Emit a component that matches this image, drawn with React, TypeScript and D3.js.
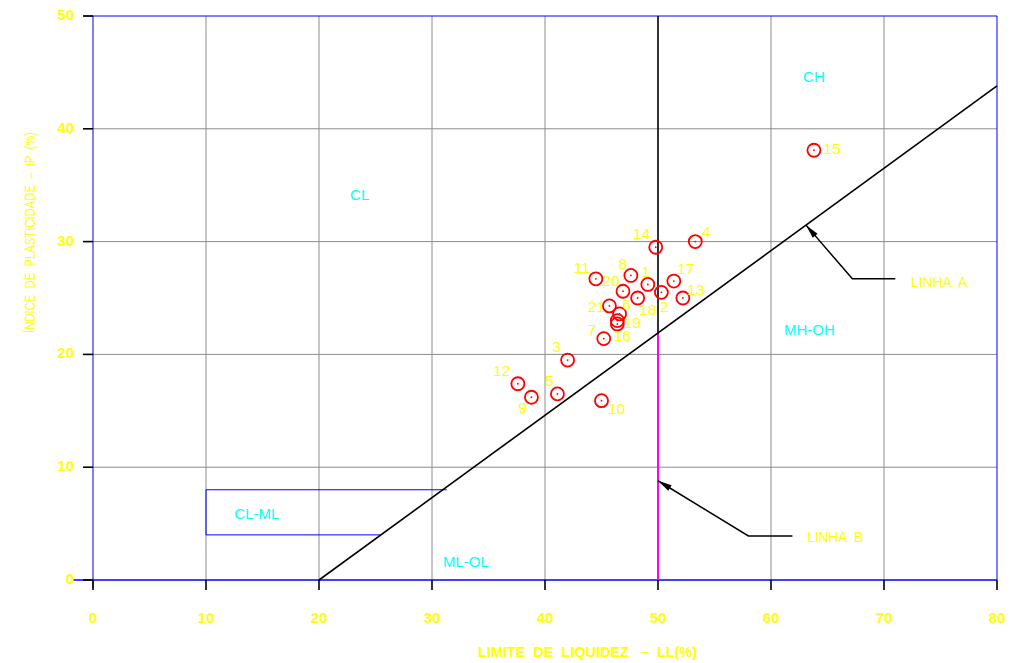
import React from "react";
import * as d3 from "d3";

const W = 1014;
const H = 663;

const xTicks = [0, 10, 20, 30, 40, 50, 60, 70, 80];
const yTicks = [0, 10, 20, 30, 40, 50];

// Sample points: id, LL (%), IP (%)
const sampleIds = ["1", "2", "3", "4", "5", "6", "7", "8", "9", "10", "11", "12", "13", "14", "15", "16", "17", "18", "19", "20", "21"];
const sampleLL = [49.1, 50.3, 42.0, 53.3, 41.1, 46.6, 45.2, 47.6, 38.8, 45.0, 44.5, 37.6, 52.2, 49.8, 63.8, 46.4, 51.4, 48.2, 46.4, 46.9, 45.7];
const sampleIP = [26.2, 25.5, 19.5, 30.0, 16.5, 23.6, 21.4, 27.0, 16.2, 15.9, 26.7, 17.4, 25.0, 29.5, 38.1, 22.7, 26.5, 25.0, 23.0, 25.6, 24.3];
// label offsets in px relative to the point (styling)
const labelDX = [-2, 3, -11, 11, -8, 7, -12, -8, -9, 15, -14, -16, 13, -14, 18, 5, 12, 10, 15, -12, -13];
const labelDY = [-12, 16, -12, -9, -12, -8, -8, -11, 12, 9, -10, -12, -7, -12, 0, 13, -11, 13, 3, -9, 2];

const zoneNames = ["CH", "CL", "MH-OH", "CL-ML", "ML-OL"];
const zoneLL = [63.8, 23.6, 63.4, 14.5, 33.0];
const zoneIP = [44.5, 34.0, 22.1, 5.8, 1.5];

const aLineLL = [20, 80];
const linhaALeader = [[63.1, 31.46], [67.2, 26.7], [71.0, 26.7]];
const linhaBLeader = [[50, 8.8], [58.0, 3.9], [61.9, 3.9]];
const clmlTop = [[10, 8], [31.3, 8]];
const clmlBottom = [[10, 4], [25.5, 4]];

const YELLOW = "#ffff00";
const CYAN = "#00ffff";
const BLUE = "#0000ff";
const GRID = "#8c8c8c";

export default function App() {
  const x = d3.scaleLinear().domain([0, 80]).range([93, 997]);
  const y = d3.scaleLinear().domain([0, 50]).range([580, 16]);
  const aIP = (ll: number) => 0.73 * (ll - 20);
  const line = d3.line<number[]>().x((d) => x(d[0])).y((d) => y(d[1]));

  const arrowHead = (pts: number[][]) => {
    const tx = x(pts[0][0]), ty = y(pts[0][1]);
    const fx = x(pts[1][0]), fy = y(pts[1][1]);
    const ang = Math.atan2(fy - ty, fx - tx);
    const len = 14, wid = 3.2;
    const bx = tx + len * Math.cos(ang), by = ty + len * Math.sin(ang);
    const px = -Math.sin(ang) * wid, py = Math.cos(ang) * wid;
    return `${tx},${ty} ${bx + px},${by + py} ${bx - px},${by - py}`;
  };

  const sans = "'Liberation Sans', Arial, sans-serif";

  const x50 = x(50);
  const yA50 = y(aIP(50));

  return (
    <div style={{ position: "absolute", left: 0, top: 0 }}>
      <svg width={W} height={H} style={{ display: "block", background: "#fff" }}>
        {/* grid */}
        {xTicks.filter((t) => t > 0 && t < 80 && t !== 50).map((t) => (
          <line key={"gx" + t} x1={x(t)} x2={x(t)} y1={y(50)} y2={y(0)} stroke={GRID} strokeWidth={1} />
        ))}
        {yTicks.filter((t) => t > 0 && t < 50).map((t) => (
          <line key={"gy" + t} x1={x(0)} x2={x(80)} y1={y(t)} y2={y(t)} stroke={GRID} strokeWidth={1} />
        ))}
        {/* CL-ML box */}
        <path d={line(clmlTop) || ""} stroke={BLUE} fill="none" strokeWidth={1} />
        <path d={line(clmlBottom) || ""} stroke={BLUE} fill="none" strokeWidth={1} />
        <line x1={x(10)} x2={x(10)} y1={y(8)} y2={y(4)} stroke={BLUE} strokeWidth={1} />
        {/* frame */}
        <line x1={x(0) - 9} x2={x(80)} y1={y(50)} y2={y(50)} stroke={BLUE} strokeWidth={1} />
        <line x1={x(80)} x2={x(80)} y1={y(50)} y2={y(0)} stroke={BLUE} strokeWidth={1} />
        <line x1={x(0)} x2={x(0)} y1={y(50)} y2={y(0) + 8} stroke={BLUE} strokeWidth={1} />
        <line x1={x(0) - 20} x2={x(80)} y1={y(0)} y2={y(0)} stroke={BLUE} strokeWidth={1.5} />
        {/* ticks */}
        {xTicks.map((t) => (
          <line key={"tx" + t} x1={x(t)} x2={x(t)} y1={y(0)} y2={y(0) + 10} stroke="#000" strokeWidth={1.6} />
        ))}
        {yTicks.map((t) => (
          <line key={"ty" + t} x1={x(0) - 10} x2={x(0)} y1={y(t)} y2={y(t)} stroke="#000" strokeWidth={1.6} />
        ))}
        {/* LL=50 line */}
        <line x1={x50} x2={x50} y1={y(50)} y2={yA50} stroke="#000" strokeWidth={1.6} />
        <line x1={x50} x2={x50} y1={yA50} y2={y(0)} stroke="#ff00ff" strokeWidth={2} />
        {/* A line */}
        <line x1={x(aLineLL[0])} y1={y(aIP(aLineLL[0]))} x2={x(aLineLL[1])} y2={y(aIP(aLineLL[1]))} stroke="#000" strokeWidth={1.6} />
        {/* leaders */}
        <path d={line(linhaALeader) || ""} stroke="#000" fill="none" strokeWidth={1.5} />
        <polygon points={arrowHead(linhaALeader)} fill="#000" />
        <path d={line(linhaBLeader) || ""} stroke="#000" fill="none" strokeWidth={1.5} />
        <polygon points={arrowHead(linhaBLeader)} fill="#000" />
        <text x={x(72.4)} y={y(26.3)} fill={YELLOW} fontFamily={sans} fontSize={15} dominantBaseline="middle" xmlSpace="preserve" textLength={56} lengthAdjust="spacingAndGlyphs">LINHA  A</text>
        <text x={x(63.2)} y={y(3.7)} fill={YELLOW} fontFamily={sans} fontSize={15} dominantBaseline="middle" xmlSpace="preserve" textLength={56} lengthAdjust="spacingAndGlyphs">LINHA  B</text>
        {/* zone labels */}
        {zoneNames.map((n, i) => (
          <text key={n} x={x(zoneLL[i])} y={y(zoneIP[i])} fill={CYAN} fontFamily={sans} fontSize={15} textAnchor="middle" dominantBaseline="middle">{n}</text>
        ))}
        {/* points */}
        {sampleIds.map((id, i) => (
          <g key={"p" + id}>
            <circle cx={x(sampleLL[i])} cy={y(sampleIP[i])} r={6.5} fill="none" stroke="#ff0000" strokeWidth={1.8} />
            <circle cx={x(sampleLL[i])} cy={y(sampleIP[i])} r={0.9} fill="#ff0000" />
          </g>
        ))}
        {sampleIds.map((id, i) => (
          <text key={"l" + id} x={x(sampleLL[i]) + labelDX[i]} y={y(sampleIP[i]) + labelDY[i]} fill={YELLOW} fontFamily={sans} fontSize={15.5} textAnchor="middle" dominantBaseline="middle">{id}</text>
        ))}
        {/* tick labels */}
        {xTicks.map((t) => (
          <text key={"xl" + t} x={x(t)} y={619} fill={YELLOW} fontFamily={sans} fontSize={15} fontWeight="bold" textAnchor="middle" dominantBaseline="middle">{t}</text>
        ))}
        {yTicks.map((t) => (
          <text key={"yl" + t} x={74} y={y(t)} fill={YELLOW} fontFamily={sans} fontSize={15} fontWeight="bold" textAnchor="end" dominantBaseline="middle">{t}</text>
        ))}
        {/* axis titles */}
        <text x={478} y={653} fill={YELLOW} fontFamily={sans} fontSize={14.5} fontWeight="bold" dominantBaseline="middle" xmlSpace="preserve" textLength={219} lengthAdjust="spacingAndGlyphs">LIMITE  DE  LIQUIDEZ   –  LL(%)</text>
        <text transform={`translate(31,333) rotate(-90)`} fill={YELLOW} fontFamily={sans} fontSize={15} dominantBaseline="middle" xmlSpace="preserve" textLength={201} lengthAdjust="spacingAndGlyphs">ÍNDICE  DE  PLASTICIDADE  –  IP  (%)</text>
      </svg>
    </div>
  );
}
